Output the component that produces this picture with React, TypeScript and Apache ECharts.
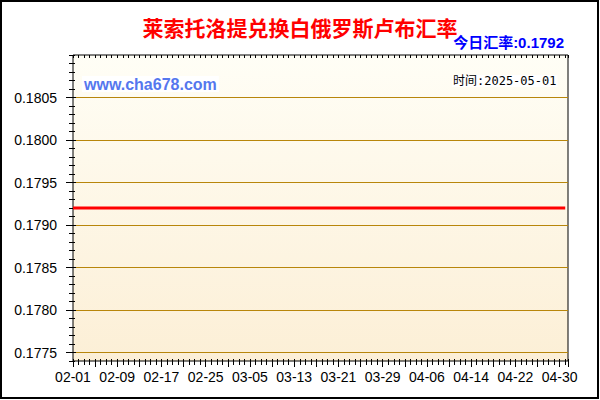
import React, { useEffect, useRef } from 'react';
import * as echarts from 'echarts';

// 日期标签（每8天一个）
const tickLabels = [
  '02-01', '02-09', '02-17', '02-25', '03-05', '03-13',
  '03-21', '03-29', '04-06', '04-14', '04-22', '04-30',
];

// 每日汇率 02-01 ~ 05-01
const rates = [
  0.1792, 0.1792, 0.1792, 0.1792, 0.1792, 0.1792, 0.1792, 0.1792, 0.1792, 0.1792,
  0.1792, 0.1792, 0.1792, 0.1792, 0.1792, 0.1792, 0.1792, 0.1792, 0.1792, 0.1792,
  0.1792, 0.1792, 0.1792, 0.1792, 0.1792, 0.1792, 0.1792, 0.1792, 0.1792, 0.1792,
  0.1792, 0.1792, 0.1792, 0.1792, 0.1792, 0.1792, 0.1792, 0.1792, 0.1792, 0.1792,
  0.1792, 0.1792, 0.1792, 0.1792, 0.1792, 0.1792, 0.1792, 0.1792, 0.1792, 0.1792,
  0.1792, 0.1792, 0.1792, 0.1792, 0.1792, 0.1792, 0.1792, 0.1792, 0.1792, 0.1792,
  0.1792, 0.1792, 0.1792, 0.1792, 0.1792, 0.1792, 0.1792, 0.1792, 0.1792, 0.1792,
  0.1792, 0.1792, 0.1792, 0.1792, 0.1792, 0.1792, 0.1792, 0.1792, 0.1792, 0.1792,
  0.1792, 0.1792, 0.1792, 0.1792, 0.1792, 0.1792, 0.1792, 0.1792, 0.1792, 0.1792,
];

const titleText = '莱索托洛提兑换白俄罗斯卢布汇率';
const todayText = '今日汇率:0.1792';
const timeText = '时间:2025-05-01';

const App: React.FC = () => {
  const chartRef = useRef<HTMLDivElement>(null);

  useEffect(() => {
    if (!chartRef.current) return;
    const chart = echarts.init(chartRef.current, undefined, { renderer: 'svg' });

    const numFont = '"Liberation Sans", Arial, sans-serif';
    const cjkFont = '"Noto Sans CJK SC", sans-serif';

    const option = {
      animation: false,
      backgroundColor: '#fff',
      title: {
        text: titleText,
        left: 'center',
        top: 11,
        textStyle: { color: '#ff0000', fontSize: 21, fontWeight: 'bold', fontFamily: cjkFont },
      },
      grid: [
        {
          left: 73, right: 32, top: 55, bottom: 39,
          show: true,
          borderColor: '#000',
          borderWidth: 1,
          backgroundColor: new echarts.graphic.LinearGradient(0, 0, 0, 1, [
            { offset: 0, color: '#fffef6' },
            { offset: 1, color: '#fcefd6' },
          ]),
        },
        { left: 73, right: 32, top: 97.5, bottom: 47.5 },
      ],
      xAxis: [
        {
          gridIndex: 0, type: 'value', position: 'bottom', min: 0, max: 89.5, interval: 1, offset: -2,
          axisLine: { show: false }, axisLabel: { show: false }, splitLine: { show: false },
          axisTick: { show: true, length: 6, lineStyle: { color: '#000' } },
        },
        {
          gridIndex: 0, type: 'value', position: 'bottom', min: 0, max: 89.5, interval: 4, offset: -2,
          axisLine: { show: false }, splitLine: { show: false },
          axisTick: { show: true, length: 8, lineStyle: { color: '#000' } },
          axisLabel: {
            margin: 11, color: '#000', fontSize: 14, fontFamily: numFont,
            formatter: (v: number) => {
              const r = Math.round(v);
              if (Math.abs(v - r) > 1e-6 || r % 8 !== 0) return '';
              return tickLabels[r / 8] ?? '';
            },
          },
        },
        {
          gridIndex: 0, type: 'value', position: 'top', min: 0, max: 89.5, interval: 1,
          axisLine: { show: false }, axisLabel: { show: false }, splitLine: { show: false },
          axisTick: { show: true, inside: true, length: 3, lineStyle: { color: '#000' } },
        },
        { gridIndex: 1, type: 'value', show: false, min: 0, max: 89.5 },
      ],
      yAxis: [
        {
          gridIndex: 0, type: 'value', position: 'left', min: 0.1774, max: 0.181, interval: 0.0001, offset: -2,
          axisLine: { show: false }, axisLabel: { show: false }, splitLine: { show: false },
          axisTick: { show: true, length: 6, lineStyle: { color: '#000' } },
        },
        {
          gridIndex: 0, type: 'value', position: 'right', min: 0.1774, max: 0.181, interval: 0.0001,
          axisLine: { show: false }, axisLabel: { show: false }, splitLine: { show: false },
          axisTick: { show: true, inside: true, length: 4, lineStyle: { color: '#000' } },
        },
        {
          gridIndex: 1, type: 'value', position: 'left', min: 0.1775, max: 0.1805, interval: 0.0005, offset: -3,
          axisLine: { show: false },
          axisTick: { show: true, length: 10, lineStyle: { color: '#000' } },
          axisLabel: {
            margin: 19, color: '#000', fontSize: 14, fontFamily: numFont,
            formatter: (v: number) => v.toFixed(4),
          },
          splitLine: { show: true, lineStyle: { color: '#b8860b', width: 1 } },
        },
      ],
      graphic: [
        {
          type: 'rect',
          shape: { x: 1, y: 1, width: 597, height: 397 },
          style: { fill: 'none', stroke: '#000', lineWidth: 2 },
          silent: true,
        },
        {
          type: 'text',
          x: 564, y: 42.5,
          style: {
            text: todayText, align: 'right', verticalAlign: 'middle',
            fill: '#0000ff', fontSize: 15, fontWeight: 'bold', fontFamily: numFont + ', ' + cjkFont,
          },
        },
        {
          type: 'text',
          x: 82, y: 76, z: 10,
          style: {
            text: 'www.cha678.com', fill: '#5577ee', fontSize: 16, fontWeight: 'bold', fontFamily: numFont,
            backgroundColor: '#fff', padding: [0, 2], lineHeight: 16,
          },
        },
        {
          type: 'text',
          x: 452, y: 75, z: 10,
          style: {
            text: timeText, fill: '#000', fontSize: 12,
            fontFamily: '"DejaVu Sans Mono", "Noto Sans CJK SC", monospace',
            backgroundColor: '#fff', padding: [0, 1], lineHeight: 12,
          },
        },
      ],
      series: [
        {
          type: 'line',
          xAxisIndex: 0,
          yAxisIndex: 0,
          data: rates.map((v, i) => [i, v]),
          symbol: 'none',
          lineStyle: { color: '#ff0000', width: 3 },
          z: 5,
        },
      ],
    };

    chart.setOption(option);
    return () => {
      chart.dispose();
    };
  }, []);

  return (
    <div
      ref={chartRef}
      style={{ position: 'absolute', left: 0, top: 0, width: '600px', height: '400px' }}
    />
  );
};

export default App;
